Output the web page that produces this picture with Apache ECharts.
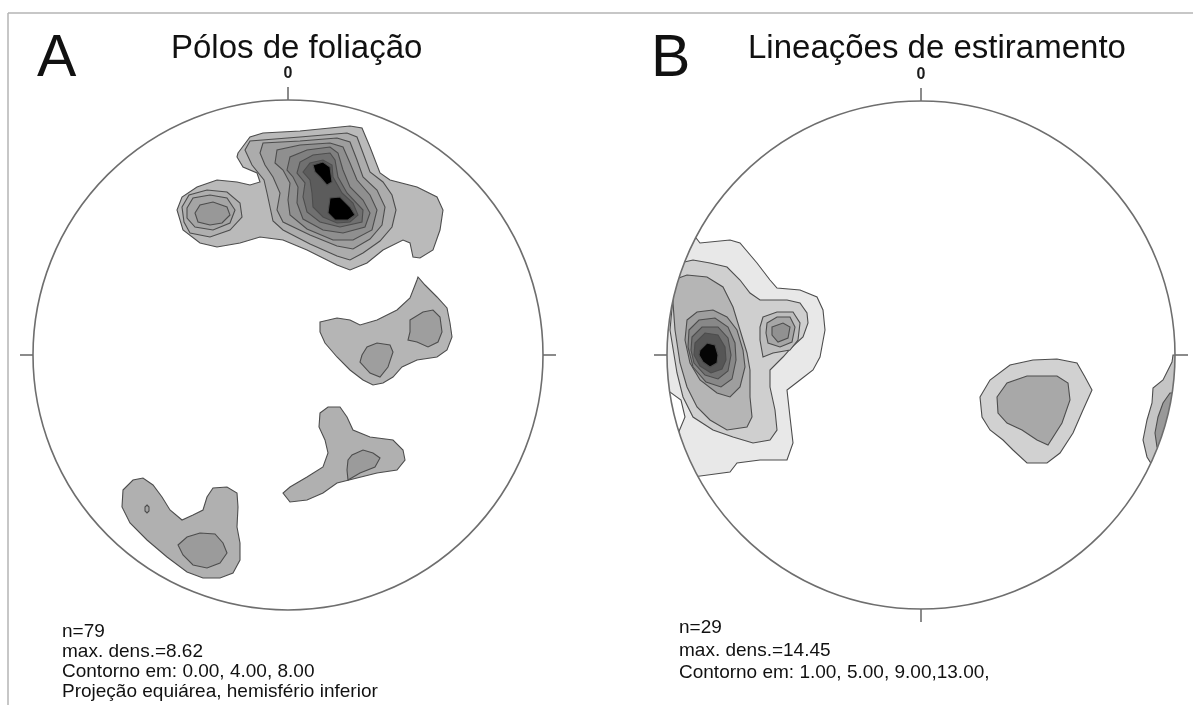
<!DOCTYPE html>
<html>
<head>
<meta charset="utf-8">
<script src="https://cdn.jsdelivr.net/npm/echarts@6/dist/echarts.min.js"></script>
<style>html,body{margin:0;padding:0;background:#fff}#c{width:1193px;height:705px}</style>
</head>
<body>
<div id="c"></div>
<script>
// ---------- text content ----------
const netLetters = ['A', 'B'];
const netTitles = ['Pólos de foliação', 'Lineações de estiramento'];
const northLabel = '0';
const statsA = ['n=79', 'max. dens.=8.62', 'Contorno em: 0.00, 4.00, 8.00', 'Projeção equiárea, hemisfério inferior'];
const statsB = ['n=29', 'max. dens.=14.45', 'Contorno em: 1.00, 5.00, 9.00,13.00,'];
const ticksA = ['N', 'E', 'W'];
const ticksB = ['N', 'E', 'S', 'W'];

// net radius in plot units (x: east, y: north, origin at net centre)
const RADIUS_A = 255;
const RADIUS_B = 254;

// ---------- Net A: poles of foliation, density contour polygons ----------
const A_main1 = [[-50,202],[-38,218],[-25,222],[12,224],[62,229],[74,227],[82,208],[92,182],[102,175],[129,168],[149,158],[155,145],[152,125],[145,105],[132,97],[125,98],[122,112],[115,115],[95,105],[79,92],[62,85],[49,90],[19,105],[-5,115],[-28,118],[-48,112],[-71,108],[-88,112],[-105,125],[-111,145],[-106,158],[-91,168],[-71,175],[-51,173],[-38,170],[-28,173],[-31,182],[-45,188],[-51,198]];
const A_main2 = [[-43,205],[-38,214],[12,218],[59,222],[69,218],[75,202],[82,183],[95,173],[104,160],[108,145],[104,128],[92,114],[75,102],[62,95],[49,99],[22,111],[-5,125],[-15,134],[-18,148],[-21,162],[-24,175],[-36,190]];
const A_main3 = [[-28,202],[-25,212],[12,214],[49,217],[62,213],[69,195],[75,178],[89,165],[97,148],[94,130],[82,116],[65,106],[49,109],[22,120],[-5,133],[-11,145],[-8,162],[-15,178],[-23,190]];
const A_main4 = [[-13,192],[-11,205],[12,210],[42,212],[55,208],[62,192],[69,175],[82,160],[89,145],[84,125],[65,115],[45,115],[19,126],[2,140],[0,155],[2,172],[-5,185]];
const A_main5 = [[-1,185],[2,198],[19,205],[42,208],[50,202],[55,185],[62,168],[75,155],[82,142],[77,128],[55,122],[35,125],[15,136],[9,152],[10,168],[5,178]];
const A_main6 = [[9,182],[12,193],[25,200],[42,202],[47,195],[50,178],[59,162],[75,145],[74,133],[52,128],[32,133],[19,143],[15,158],[17,172]];
const A_main7 = [[15,183],[22,192],[35,195],[44,190],[45,178],[54,162],[65,152],[70,140],[62,133],[49,132],[35,138],[25,148],[24,162],[22,175]];
const A_peak1 = [[25,190],[35,193],[42,188],[44,173],[39,170],[32,178],[27,183]];
const A_peak2 = [[42,157],[52,158],[62,148],[67,140],[60,135],[47,135],[40,142]];
const A_west2 = [[-106,148],[-99,160],[-81,165],[-61,163],[-48,152],[-46,138],[-58,125],[-78,118],[-98,122],[-104,133]];
const A_west3 = [[-101,147],[-95,157],[-78,160],[-61,157],[-53,145],[-58,132],[-75,125],[-93,128],[-101,137]];
const A_west4 = [[-93,142],[-88,150],[-75,153],[-61,148],[-58,140],[-66,132],[-78,130],[-90,133]];
const A_east1 = [[32,33],[49,37],[62,35],[72,30],[89,35],[109,45],[122,57],[129,75],[130,78],[137,70],[149,58],[159,47],[162,32],[164,18],[159,5],[149,-2],[129,-5],[114,-12],[105,-22],[95,-28],[85,-30],[75,-25],[62,-15],[49,-2],[37,12],[32,23]];
const A_east2a = [[122,35],[135,43],[145,45],[152,38],[154,23],[150,13],[140,8],[129,13],[120,15],[122,23]];
const A_east2b = [[74,0],[79,8],[89,12],[102,10],[105,3],[100,-12],[92,-22],[82,-18],[72,-7]];
const A_south1 = [[32,-58],[40,-52],[52,-52],[59,-62],[65,-75],[82,-82],[105,-85],[115,-95],[117,-105],[109,-115],[89,-118],[69,-123],[49,-128],[35,-138],[19,-145],[2,-147],[-5,-138],[2,-132],[19,-122],[35,-112],[40,-98],[37,-85],[31,-72]];
const A_south2 = [[60,-105],[64,-100],[75,-95],[85,-98],[92,-103],[87,-112],[72,-118],[60,-125],[59,-115]];
const A_sw1 = [[-165,-135],[-155,-125],[-145,-123],[-135,-130],[-126,-142],[-118,-155],[-106,-165],[-95,-160],[-85,-155],[-81,-142],[-75,-133],[-61,-132],[-51,-138],[-50,-152],[-51,-172],[-48,-188],[-48,-205],[-55,-218],[-68,-223],[-85,-223],[-101,-217],[-121,-202],[-141,-185],[-158,-168],[-166,-152]];
const A_sw2 = [[-110,-190],[-101,-182],[-88,-178],[-73,-179],[-65,-188],[-61,-198],[-68,-208],[-81,-213],[-95,-210],[-105,-200]];
const A_swDot = [[-141,-150],[-139,-152],[-139,-156],[-141,-158],[-143,-156],[-143,-152]];

// ---------- Net B: stretching lineations ----------
const B_west1 = [[-232,126],[-221,112],[-191,115],[-181,112],[-164,92],[-151,75],[-144,67],[-121,65],[-104,58],[-98,45],[-96,25],[-101,-2],[-108,-15],[-121,-25],[-134,-35],[-131,-62],[-128,-88],[-134,-105],[-161,-105],[-184,-108],[-191,-117],[-228,-122],[-246,-86],[-236,-62],[-240,-45],[-258,-32],[-262,0],[-258,45],[-246,90]];
const B_west2 = [[-241,92],[-228,95],[-211,92],[-194,88],[-181,75],[-171,62],[-161,55],[-134,55],[-121,52],[-114,42],[-113,32],[-118,18],[-129,8],[-138,-2],[-151,-15],[-151,-32],[-146,-55],[-144,-75],[-151,-85],[-168,-88],[-188,-82],[-208,-75],[-228,-62],[-238,-42],[-244,-18],[-251,25],[-248,58],[-244,82]];
const B_west3 = [[-248,75],[-234,80],[-214,78],[-198,68],[-188,48],[-181,25],[-174,2],[-171,-15],[-171,-42],[-169,-62],[-174,-72],[-194,-75],[-211,-65],[-224,-52],[-234,-32],[-241,-8],[-246,25],[-248,52]];
const B_knot1 = [[-158,38],[-144,43],[-128,43],[-121,32],[-123,15],[-131,5],[-148,2],[-158,-2],[-161,15],[-161,28]];
const B_knot2 = [[-154,32],[-144,38],[-131,38],[-126,28],[-129,13],[-141,8],[-153,12],[-155,22]];
const B_knot3 = [[-149,28],[-138,32],[-131,28],[-133,17],[-143,13],[-149,20]];
const B_peak1 = [[-234,35],[-224,43],[-208,45],[-194,38],[-184,25],[-178,5],[-176,-12],[-181,-32],[-191,-42],[-204,-38],[-221,-25],[-231,-8],[-236,15]];
const B_peak2 = [[-232,25],[-222,35],[-206,37],[-193,28],[-186,12],[-185,-5],[-189,-24],[-200,-32],[-215,-27],[-228,-12],[-233,8]];
const B_peak3 = [[-229,18],[-219,28],[-203,28],[-193,17],[-190,0],[-193,-16],[-203,-24],[-216,-20],[-227,-8],[-230,5]];
const B_peak4 = [[-226,12],[-216,22],[-203,20],[-196,8],[-195,-5],[-199,-14],[-210,-18],[-221,-11],[-227,0]];
const B_peak5 = [[-221,5],[-214,12],[-206,10],[-203,0],[-204,-8],[-211,-12],[-218,-7],[-222,0]];
const B_east1 = [[59,-42],[69,-25],[89,-10],[112,-5],[136,-4],[156,-8],[164,-22],[171,-35],[162,-55],[152,-78],[139,-98],[126,-108],[106,-108],[92,-95],[82,-85],[69,-75],[61,-62]];
const B_east2 = [[76,-42],[86,-28],[106,-21],[136,-21],[147,-28],[149,-45],[141,-68],[127,-90],[116,-85],[101,-75],[86,-68],[77,-58]];
const B_rim1 = [[252,0],[251,-7],[242,-25],[232,-33],[231,-48],[226,-65],[222,-85],[226,-102],[231,-110],[240,-112],[252,-80],[260,-30],[262,0]];
const B_rim2 = [[249,-38],[242,-48],[237,-62],[234,-78],[236,-92],[246,-95],[256,-62],[262,-38]];

// ---------- assemble (drawing order = low to high density) ----------
const polysA = [
  { pts: A_main1, color: '#bababa' }, { pts: A_main2, color: '#acacac' },
  { pts: A_main3, color: '#9e9e9e' }, { pts: A_main4, color: '#8f8f8f' },
  { pts: A_main5, color: '#808080' }, { pts: A_main6, color: '#707070' },
  { pts: A_main7, color: '#5c5c5c' }, { pts: A_peak1, color: '#000000' },
  { pts: A_peak2, color: '#000000' },
  { pts: A_west2, color: '#afafaf' }, { pts: A_west3, color: '#a5a5a5' },
  { pts: A_west4, color: '#989898' },
  { pts: A_east1, color: '#b5b5b5' }, { pts: A_east2a, color: '#9e9e9e' },
  { pts: A_east2b, color: '#9e9e9e' },
  { pts: A_south1, color: '#b0b0b0' }, { pts: A_south2, color: '#9b9b9b' },
  { pts: A_sw1, color: '#b0b0b0' }, { pts: A_sw2, color: '#9b9b9b' },
  { pts: A_swDot, color: '#a4a4a4' }
];
const polysB = [
  { pts: B_west1, color: '#e8e8e8' }, { pts: B_west2, color: '#cfcfcf' },
  { pts: B_west3, color: '#b5b5b5' },
  { pts: B_knot1, color: '#bdbdbd' }, { pts: B_knot2, color: '#a6a6a6' },
  { pts: B_knot3, color: '#919191' },
  { pts: B_peak1, color: '#9e9e9e' }, { pts: B_peak2, color: '#888888' },
  { pts: B_peak3, color: '#717171' }, { pts: B_peak4, color: '#565656' },
  { pts: B_peak5, color: '#050505' },
  { pts: B_east1, color: '#d1d1d1' }, { pts: B_east2, color: '#a8a8a8' },
  { pts: B_rim1, color: '#c5c5c5' }, { pts: B_rim2, color: '#999999' }
];

const TICK = 13, LABEL_OFF = 26;
const DIRS = { N: [0, 1], S: [0, -1], E: [1, 0], W: [-1, 0] };

function netRenderer(polys, R, ticks) {
  return function (params, api) {
    const c = api.coord([0, 0]);
    const rp = api.size([R, 0])[0];
    const i = params.dataIndex;
    if (i < polys.length) {
      const p = polys[i];
      return {
        type: 'group',
        clipPath: { type: 'circle', shape: { cx: c[0], cy: c[1], r: rp } },
        children: [{
          type: 'polygon',
          shape: { points: p.pts.map(q => api.coord(q)) },
          style: { fill: p.color, stroke: '#4d4d4d', lineWidth: 1.1 }
        }]
      };
    }
    const children = [{
      type: 'circle', shape: { cx: c[0], cy: c[1], r: rp },
      style: { fill: 'none', stroke: '#6e6e6e', lineWidth: 1.6 }
    }];
    ticks.forEach(t => {
      const d = DIRS[t];
      const a = api.coord([d[0] * R, d[1] * R]);
      const b = api.coord([d[0] * (R + TICK), d[1] * (R + TICK)]);
      children.push({ type: 'line', shape: { x1: a[0], y1: a[1], x2: b[0], y2: b[1] },
        style: { stroke: '#6e6e6e', lineWidth: 1.6 } });
    });
    const n = api.coord([0, R + LABEL_OFF]);
    children.push({ type: 'text', x: n[0], y: n[1],
      style: { text: northLabel, fill: '#1a1a1a', fontSize: 16, fontWeight: 'bold',
        fontFamily: '"Liberation Sans", Arial, sans-serif', align: 'center', verticalAlign: 'middle' } });
    return { type: 'group', children: children };
  };
}

function items(polys) { return polys.map(() => [0, 0]).concat([[0, 0]]); }

const FONT = '"Liberation Sans", Arial, Helvetica, sans-serif';
function txt(x, y, s, size) {
  return { type: 'text', x: x, y: y,
    style: { text: s, fill: '#111', fontSize: size, fontFamily: FONT, verticalAlign: 'middle', align: 'left' } };
}

const graphics = [
  { type: 'line', shape: { x1: 8, y1: 13, x2: 1193, y2: 13 }, style: { stroke: '#b4b4b4', lineWidth: 1.5 } },
  { type: 'line', shape: { x1: 8, y1: 13, x2: 8, y2: 705 }, style: { stroke: '#b4b4b4', lineWidth: 1.5 } },
  txt(37, 60, netLetters[0], 59),
  txt(651, 60, netLetters[1], 59),
  txt(171, 49, netTitles[0], 33),
  txt(748, 49, netTitles[1], 33)
];
const statYA = [632, 652, 672, 692];
const statYB = [628, 651, 673];
statsA.forEach((s, k) => graphics.push(txt(62, statYA[k], s, 19)));
statsB.forEach((s, k) => graphics.push(txt(679, statYB[k], s, 19)));

const chart = echarts.init(document.getElementById('c'), null, { renderer: 'canvas' });
chart.setOption({
  animation: false,
  backgroundColor: '#ffffff',
  grid: [
    { left: 288 - RADIUS_A, top: 355 - RADIUS_A, width: 2 * RADIUS_A, height: 2 * RADIUS_A },
    { left: 921 - RADIUS_B, top: 355 - RADIUS_B, width: 2 * RADIUS_B, height: 2 * RADIUS_B }
  ],
  xAxis: [
    { type: 'value', gridIndex: 0, min: -RADIUS_A, max: RADIUS_A, show: false },
    { type: 'value', gridIndex: 1, min: -RADIUS_B, max: RADIUS_B, show: false }
  ],
  yAxis: [
    { type: 'value', gridIndex: 0, min: -RADIUS_A, max: RADIUS_A, show: false },
    { type: 'value', gridIndex: 1, min: -RADIUS_B, max: RADIUS_B, show: false }
  ],
  series: [
    { type: 'custom', xAxisIndex: 0, yAxisIndex: 0, clip: false, silent: true,
      renderItem: netRenderer(polysA, RADIUS_A, ticksA), data: items(polysA) },
    { type: 'custom', xAxisIndex: 1, yAxisIndex: 1, clip: false, silent: true,
      renderItem: netRenderer(polysB, RADIUS_B, ticksB), data: items(polysB) }
  ],
  graphic: graphics
});
</script>
</body>
</html>
